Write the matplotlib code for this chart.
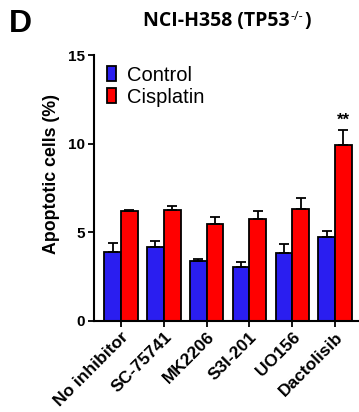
import numpy as np
import matplotlib
matplotlib.use('Agg')
import matplotlib.pyplot as plt

groups = ['No inhibitor', 'SC-75741', 'MK2206', 'S3I-201', 'UO156', 'Dactolisib']
control = [3.86, 4.18, 3.35, 3.01, 3.80, 4.71]
control_err = [0.50, 0.34, 0.13, 0.32, 0.50, 0.36]
cisplatin = [6.20, 6.23, 5.46, 5.71, 6.29, 9.94]
cisplatin_err = [0.05, 0.25, 0.38, 0.45, 0.62, 0.82]

plt.rcParams['font.family'] = ['Liberation Sans', 'DejaVu Sans']

fig = plt.figure(figsize=(3.59, 4.12), dpi=100)
ax = fig.add_axes([0.262, 0.222, 0.738, 0.6445])

x = np.arange(len(groups))
w = 0.39
ax.bar(x - w/2, control, w, color='#2a1ef0', edgecolor='black', linewidth=1.3,
       yerr=[np.zeros(6), control_err], capsize=3.5,
       error_kw=dict(elinewidth=1.3, capthick=1.3), label='Control')
ax.bar(x + w/2, cisplatin, w, color='#ff0000', edgecolor='black', linewidth=1.3,
       yerr=[np.zeros(6), cisplatin_err], capsize=3.5,
       error_kw=dict(elinewidth=1.3, capthick=1.3), label='Cisplatin')

ax.text(x[-1] + w/2, cisplatin[-1] + cisplatin_err[-1] + 0.15, '**',
        ha='center', va='bottom', fontsize=12, fontweight='bold')

ax.set_xlim(-0.63, 5.56)
ax.set_ylim(0, 15)
ax.set_yticks([0, 5, 10, 15])
ax.set_xticks(x)
ax.set_xticklabels(groups, rotation=45, ha='right', rotation_mode='anchor',
                   fontsize=12.5, fontweight='bold')
for t in ax.get_yticklabels():
    t.set_fontweight('bold')
    t.set_fontsize(11)
ax.tick_params(width=1.3, length=4, direction='out', pad=2.5)
ax.spines['top'].set_visible(False)
ax.spines['right'].set_visible(False)
ax.spines['left'].set_linewidth(1.5)
ax.spines['bottom'].set_linewidth(1.5)
ax.set_ylabel('Apoptotic cells (%)', fontsize=12.8, fontweight='bold')
ax.yaxis.set_label_coords(-0.128, 0.552)

ax.legend(loc='upper left', bbox_to_anchor=(0.02, 0.99), frameon=False,
          fontsize=14.5, handlelength=0.45, handleheight=0.8, handletextpad=0.5,
          labelspacing=0.15, borderaxespad=0)

# title with small superscript
title_font = ['Open Sans', 'DejaVu Sans']
ty = 0.948
t1 = fig.text(0.398, ty, 'NCI-H358 (TP53', ha='left', va='center',
              fontsize=14, fontweight='bold', family=title_font)
r = fig.canvas.get_renderer()
bb = t1.get_window_extent(r)
x1 = bb.x1 / fig.bbox.width
t2 = fig.text(x1 + 0.003, ty + 0.013, '-/-', ha='left', va='center',
              fontsize=9, fontweight='normal', family=title_font)
bb2 = t2.get_window_extent(r)
x2 = bb2.x1 / fig.bbox.width
fig.text(x2 + 0.003, ty, ')', ha='left', va='center',
         fontsize=14, fontweight='bold', family=title_font)
fig.text(0.025, 0.942, 'D', ha='left', va='center', fontsize=23, fontweight='bold')

fig.savefig('out.png', dpi=100)
